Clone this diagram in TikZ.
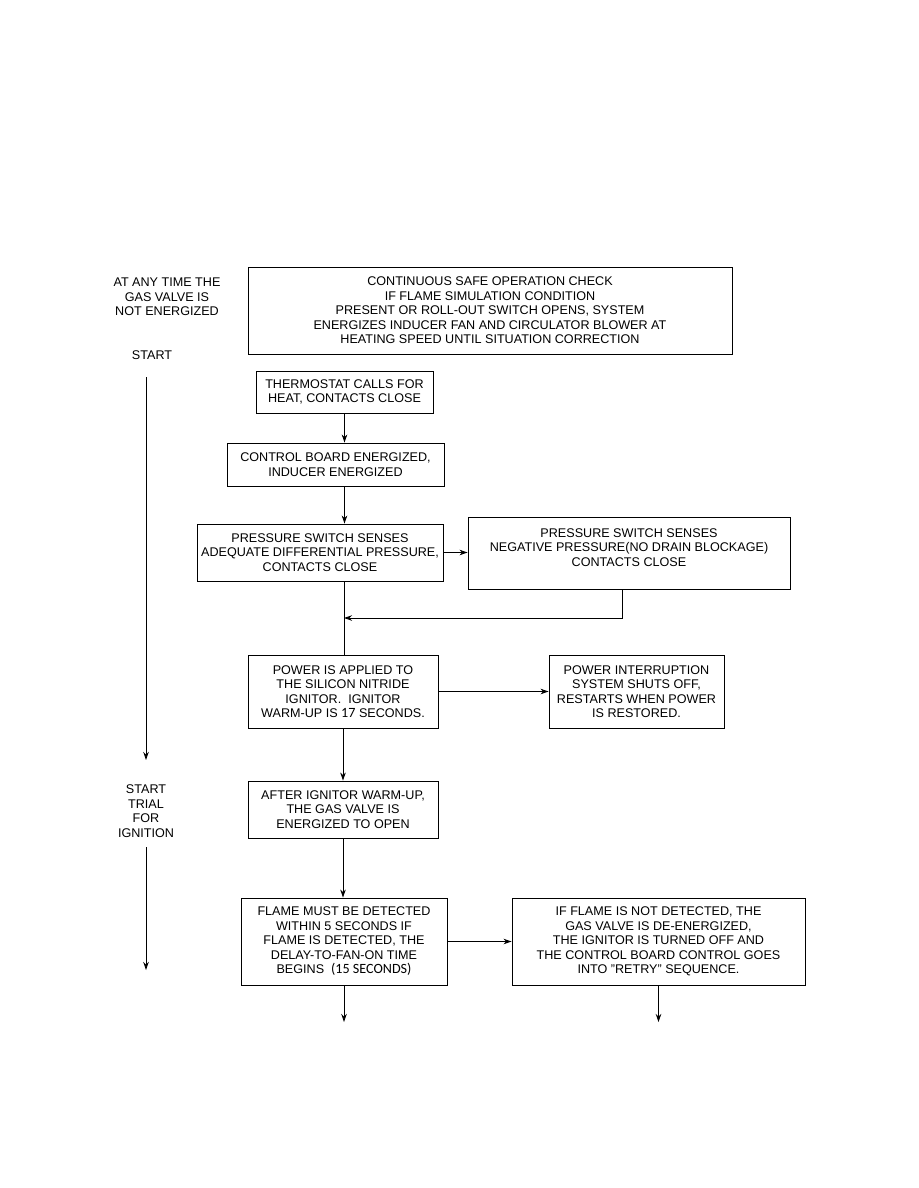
\documentclass[tikz,border=0pt]{standalone}
\usepackage{fontspec}
\setmainfont{Liberation Sans}
\newfontfamily\calfont[Scale=1.12]{Carlito}
\usepackage{tikz}
\usetikzlibrary{arrows.meta,positioning}

\begin{document}
\begin{tikzpicture}[x=1pt,y=-1pt,
  every node/.style={font=\fontsize{12.6}{14.5}\selectfont, align=center, inner sep=0pt},
  box/.style={draw, line width=0.9pt},
  flow/.style={line width=0.9pt, -{Stealth[length=8pt,width=5.5pt]}}]
\useasboundingbox (0,0) rectangle (918,1188);
% left side labels
\node (anytime) at (167,297) {AT ANY TIME THE\\GAS VALVE IS\\NOT ENERGIZED};
\node (start) at (152,355) {START};
\node (trial) at (146,811) {START\\TRIAL\\FOR\\IGNITION};
\coordinate (s1) at (146,377);
\coordinate (e1) at (146,760);
\coordinate (s2) at (146,847);
\coordinate (e2) at (146,970);
% boxes
\node[box, minimum width=484pt, minimum height=87pt] (check) at (490,310.5)
  {CONTINUOUS SAFE OPERATION CHECK\\IF FLAME SIMULATION CONDITION\\PRESENT OR ROLL-OUT SWITCH OPENS, SYSTEM\\ENERGIZES INDUCER FAN AND CIRCULATOR BLOWER AT\\HEATING SPEED UNTIL SITUATION CORRECTION};
\node[box, minimum width=177pt, minimum height=42pt] (thermo) at (344.5,392)
  {THERMOSTAT CALLS FOR\\HEAT, CONTACTS CLOSE};
\node[box, minimum width=217pt, minimum height=43pt] (board) at (335.5,464.5)
  {CONTROL BOARD ENERGIZED,\\INDUCER ENERGIZED};
\node[box, minimum width=246pt, minimum height=57pt] (press) at (320,552.5)
  {PRESSURE SWITCH SENSES\\ADEQUATE DIFFERENTIAL PRESSURE,\\CONTACTS CLOSE};
\node[box, minimum width=322pt, minimum height=72pt] (neg) at (629,553)
  {PRESSURE SWITCH SENSES\\NEGATIVE PRESSURE(NO DRAIN BLOCKAGE)\\CONTACTS CLOSE\\[-3pt]};
\node[box, minimum width=190pt, minimum height=73pt] (power) at (343,691.5)
  {POWER IS APPLIED TO\\THE SILICON NITRIDE\\IGNITOR.~~IGNITOR\\WARM-UP IS {\calfont 17} SECONDS.};
\node[box, minimum width=175pt, minimum height=73pt] (intr) at (636.5,691.5)
  {POWER INTERRUPTION\\SYSTEM SHUTS OFF,\\RESTARTS WHEN POWER\\IS RESTORED.};
\node[box, minimum width=190pt, minimum height=57pt] (after) at (343,809.5)
  {AFTER IGNITOR WARM-UP,\\THE GAS VALVE IS\\ENERGIZED TO OPEN};
\node[box, minimum width=206pt, minimum height=87pt] (flame) at (344,941.5)
  {FLAME MUST BE DETECTED\\WITHIN 5 SECONDS IF\\FLAME IS DETECTED, THE\\DELAY-TO-FAN-ON TIME\\BEGINS~~{\calfont (15 SECONDS)}};
\node[box, minimum width=293pt, minimum height=87pt] (nodet) at (658.5,941.5)
  {IF FLAME IS NOT DETECTED, THE\\GAS VALVE IS DE-ENERGIZED,\\THE IGNITOR IS TURNED OFF AND\\THE CONTROL BOARD CONTROL GOES\\INTO "RETRY" SEQUENCE.};
\coordinate (join) at (344,618);
\coordinate (out1) at (344,1022);
\coordinate (out2) at (658.5,1022);
% connectors
\draw[flow] (s1) -- (e1);
\draw[flow] (s2) -- (e2);
\draw[flow] (thermo.south) -- (thermo.south |- board.north);
\draw[flow] (thermo.south |- board.south) -- (thermo.south |- press.north);
\draw[flow] (press.east) -- (press.east -| neg.west);
\draw[line width=0.9pt] (thermo.south |- press.south) -- (thermo.south |- power.north);
\draw[flow] ([xshift=-7pt]neg.south) |- (join);
\draw[flow] (power.east) -- (intr.west);
\draw[flow] (power.south) -- (after.north);
\draw[flow] (after.south) -- (after.south |- flame.north);
\draw[flow] (flame.east) -- (nodet.west);
\draw[flow] (flame.south) -- (out1);
\draw[flow] (nodet.south) -- (out2);
\end{tikzpicture}
\end{document}
